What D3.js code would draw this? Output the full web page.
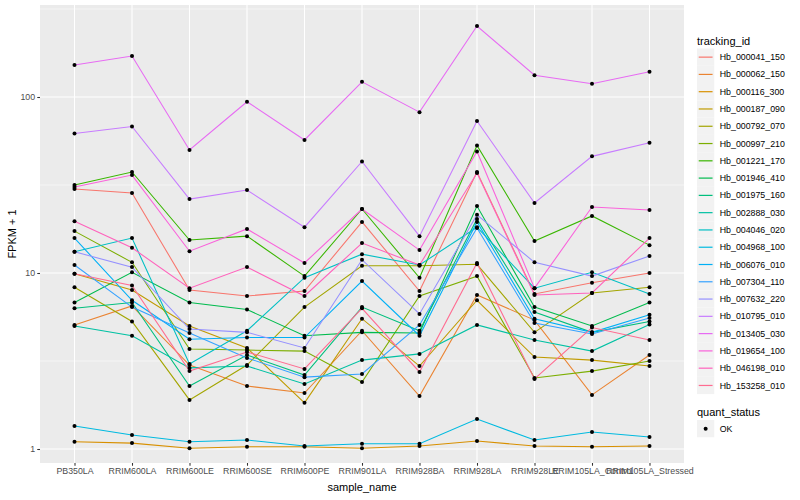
<!DOCTYPE html>
<html>
<head>
<meta charset="utf-8">
<script src="https://cdn.jsdelivr.net/npm/d3@7"></script>
<style>
  body { margin: 0; background: #fff; }
  text { font-family: "Liberation Sans", Arial, sans-serif; }
</style>
</head>
<body>
<div class="js-vis"></div>
<script>
const samples = ['PB350LA', 'RRIM600LA', 'RRIM600LE', 'RRIM600SE', 'RRIM600PE', 'RRIM901LA',
  'RRIM928BA', 'RRIM928LA', 'RRIM928LE', 'RRIM105LA_Control', 'RRIM105LA_Stressed']

const trackingIds = ['Hb_000041_150', 'Hb_000062_150', 'Hb_000116_300', 'Hb_000187_090',
  'Hb_000792_070', 'Hb_000997_210', 'Hb_001221_170', 'Hb_001946_410', 'Hb_001975_160',
  'Hb_002888_030', 'Hb_004046_020', 'Hb_004968_100', 'Hb_006076_010', 'Hb_007304_110',
  'Hb_007632_220', 'Hb_010795_010', 'Hb_013405_030', 'Hb_019654_100', 'Hb_046198_010',
  'Hb_153258_010']

// FPKM + 1, one row per tracking_id, one column per sample
const fpkmPlusOne = [
  [30, 28.5, 8.0, 7.4, 7.9, 19.5, 7.9, 37.5, 7.6, 8.8, 10],
  [5.07, 6.5, 3.0, 2.28, 2.08, 4.7, 2.0, 7.5, 5.4, 2.03, 3.42],
  [1.1, 1.08, 1.01, 1.03, 1.03, 1.01, 1.04, 1.11, 1.04, 1.03, 1.04],
  [9.9, 8.0, 5.0, 3.75, 1.83, 5.5, 2.96, 7.0, 3.33, 3.2, 2.96],
  [8.3, 5.3, 1.9, 3.0, 6.4, 11, 11, 11.2, 4.6, 7.7, 8.3],
  [17.3, 11.5, 3.7, 3.65, 3.6, 2.4, 7.4, 9.6, 2.53, 2.77, 3.16],
  [31.6, 37.5, 15.4, 16.2, 9.6, 23.1, 9.4, 53, 15.2, 21.1, 14.4],
  [6.8, 10.1, 6.8, 6.2, 4.4, 4.6, 4.56, 24, 6.4, 5.0, 6.8],
  [6.3, 6.8, 2.28, 3.42, 2.63, 6.4, 4.7, 20.3, 6.0, 4.6, 5.3],
  [5.0, 4.4, 2.89, 2.96, 2.34, 3.2, 3.47, 5.07, 4.16, 3.6, 5.1],
  [13.2, 15.8, 3.04, 4.7, 9.4, 12.8, 11.1, 18.2, 8.2, 10.1, 7.6],
  [1.35, 1.2, 1.1, 1.125, 1.04, 1.07, 1.07, 1.48, 1.125, 1.25, 1.17],
  [15.8, 7.0, 4.2, 4.3, 4.3, 9.0, 4.4, 19.5, 5.5, 4.6, 5.8],
  [11.1, 6.4, 4.56, 3.29, 2.56, 2.67, 5.07, 18, 5.2, 4.5, 5.55],
  [13.2, 10.8, 4.8, 4.6, 3.75, 11.9, 5.85, 21.4, 11.5, 9.6, 12.5],
  [62, 68, 26.3, 29.6, 18.2, 43, 16.2, 73, 25, 46, 55],
  [152, 171, 50, 94, 57, 122, 82, 253, 133, 119, 139],
  [30.8, 36, 13.3, 17.8, 11.4, 23.1, 13.5, 49, 8.2, 23.7, 22.8],
  [19.7, 13.9, 8.2, 10.8, 7.4, 14.8, 11.1, 37, 7.5, 7.7, 15.8],
  [9.9, 8.5, 2.77, 3.56, 2.85, 6.3, 2.74, 11.4, 2.5, 4.9, 4.16]
]

const yTicks = [1, 10, 100]
const yMinor = [Math.sqrt(10), Math.sqrt(1000), Math.sqrt(100000)]

const palette = ['#F8766D', '#EA8331', '#D89000', '#C09B00', '#A3A500', '#7CAE00', '#39B600',
  '#00BB4E', '#00BF7D', '#00C1A3', '#00BFC4', '#00BAE0', '#00B0F6', '#35A2FF', '#9590FF',
  '#C77CFF', '#E76BF3', '#FA62DB', '#FF62BC', '#FF6C91']

const ewidth = 800, eheight = 500
const panel = { left: 40, right: 684, top: 5, bottom: 463 }

const svg = d3.select('.js-vis').append('svg')
    .attr('width', ewidth)
    .attr('height', eheight)

const x = d3.scalePoint()
  .domain(samples)
  .range([panel.left, panel.right])
  .padding(0.6)

// 1 -> 449px, 100 -> 97px
const y = d3.scaleLog()
  .domain([Math.pow(10, (449 - panel.bottom) / 176), Math.pow(10, (449 - panel.top) / 176)])
  .range([panel.bottom, panel.top])

const color = d3.scaleOrdinal().domain(trackingIds).range(palette)

svg.append('rect')
  .attr('x', panel.left).attr('y', panel.top)
  .attr('width', panel.right - panel.left)
  .attr('height', panel.bottom - panel.top)
  .attr('fill', '#EBEBEB')

const grid = svg.append('g')

grid.selectAll('.minor')
  .data(yMinor.filter(d => y(d) > panel.top))
.enter().append('line')
  .attr('x1', panel.left).attr('x2', panel.right)
  .attr('y1', d => y(d)).attr('y2', d => y(d))
  .attr('stroke', '#fff').attr('stroke-width', 0.53)

grid.selectAll('.major-y')
  .data(yTicks)
.enter().append('line')
  .attr('x1', panel.left).attr('x2', panel.right)
  .attr('y1', d => y(d)).attr('y2', d => y(d))
  .attr('stroke', '#fff').attr('stroke-width', 1.07)

grid.selectAll('.major-x')
  .data(samples)
.enter().append('line')
  .attr('x1', d => x(d)).attr('x2', d => x(d))
  .attr('y1', panel.top).attr('y2', panel.bottom)
  .attr('stroke', '#fff').attr('stroke-width', 1.07)

const series = trackingIds.map((id, i) => ({
  id: id,
  values: samples.map((s, j) => ({ sample: s, v: fpkmPlusOne[i][j] }))
}))

const line = d3.line()
  .x(d => x(d.sample))
  .y(d => y(d.v))

svg.append('g').selectAll('path')
  .data(series)
.enter().append('path')
  .attr('d', d => line(d.values))
  .attr('fill', 'none')
  .attr('stroke', d => color(d.id))
  .attr('stroke-width', 1.07)

svg.append('g').selectAll('circle')
  .data(series.flatMap(d => d.values))
.enter().append('circle')
  .attr('cx', d => x(d.sample))
  .attr('cy', d => y(d.v))
  .attr('r', 2)
  .attr('fill', '#000')

// axes
const yax = d3.axisLeft(y).tickValues(yTicks).tickFormat(d3.format('d')).tickSize(2.75).tickPadding(2.2)
const xax = d3.axisBottom(x).tickSize(2.75).tickPadding(2.2)

const gy = svg.append('g')
    .attr('transform', 'translate(' + panel.left + ',0)')
    .call(yax)
const gx = svg.append('g')
    .attr('transform', 'translate(0,' + panel.bottom + ')')
    .call(xax)

;[gx, gy].forEach(g => {
  g.select('.domain').remove()
  g.selectAll('.tick line').attr('stroke', '#333333').attr('stroke-width', 1.07)
  g.selectAll('.tick text')
    .attr('fill', '#4D4D4D')
    .style('font-size', '8.8px')
    .style('font-family', '"Liberation Sans", Arial, sans-serif')
})

svg.append('text')
  .attr('x', (panel.left + panel.right) / 2)
  .attr('y', 491)
  .attr('text-anchor', 'middle')
  .style('font-size', '11px')
  .text('sample_name')

svg.append('text')
  .attr('transform', 'translate(16,' + ((panel.top + panel.bottom) / 2) + ') rotate(-90)')
  .attr('text-anchor', 'middle')
  .style('font-size', '11px')
  .text('FPKM + 1')

// legend
const lg = svg.append('g').attr('transform', 'translate(697,0)')
const keySize = 17.28

lg.append('text')
  .attr('x', 0).attr('y', 44.5)
  .style('font-size', '11px')
  .text('tracking_id')

const key = lg.selectAll('.key')
  .data(trackingIds)
.enter().append('g')
  .attr('transform', (d, i) => 'translate(0,' + (48.5 + i * keySize) + ')')

key.append('rect')
  .attr('width', keySize).attr('height', keySize)
  .attr('fill', '#F2F2F2')

key.append('line')
  .attr('x1', keySize * 0.1).attr('x2', keySize * 0.9)
  .attr('y1', keySize / 2).attr('y2', keySize / 2)
  .attr('stroke', d => color(d))
  .attr('stroke-width', 1.2)

key.append('text')
  .attr('x', keySize + 5.5)
  .attr('y', keySize / 2)
  .attr('dy', '0.35em')
  .style('font-size', '8.8px')
  .text(String)

lg.append('text')
  .attr('x', 0).attr('y', 416)
  .style('font-size', '11px')
  .text('quant_status')

const ok = lg.append('g').attr('transform', 'translate(0,420)')
ok.append('rect')
  .attr('width', keySize).attr('height', keySize)
  .attr('fill', '#F2F2F2')
ok.append('circle')
  .attr('cx', keySize / 2).attr('cy', keySize / 2)
  .attr('r', 2)
ok.append('text')
  .attr('x', keySize + 5.5)
  .attr('y', keySize / 2)
  .attr('dy', '0.35em')
  .style('font-size', '8.8px')
  .text('OK')
</script>
</body>
</html>
